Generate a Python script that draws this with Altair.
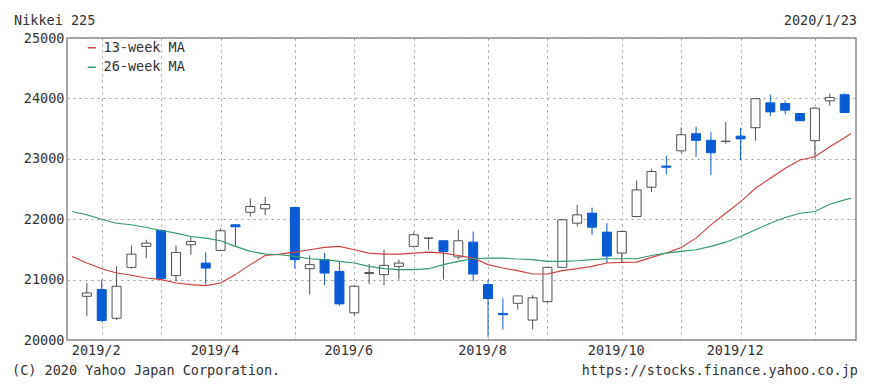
import altair as alt
import pandas as pd

# ---- weekly candles (Nikkei 225) ----
dates = ["2019-01-28", "2019-02-04", "2019-02-11", "2019-02-18", "2019-02-25",
         "2019-03-04", "2019-03-11", "2019-03-18", "2019-03-25",
         "2019-04-01", "2019-04-08", "2019-04-15", "2019-04-22",
         "2019-05-06", "2019-05-13", "2019-05-20", "2019-05-27",
         "2019-06-03", "2019-06-10", "2019-06-17", "2019-06-24",
         "2019-07-01", "2019-07-08", "2019-07-15", "2019-07-22", "2019-07-29",
         "2019-08-05", "2019-08-12", "2019-08-19", "2019-08-26",
         "2019-09-02", "2019-09-09", "2019-09-16", "2019-09-23", "2019-09-30",
         "2019-10-07", "2019-10-14", "2019-10-21", "2019-10-28",
         "2019-11-04", "2019-11-11", "2019-11-18", "2019-11-25",
         "2019-12-02", "2019-12-09", "2019-12-16", "2019-12-23", "2019-12-30",
         "2020-01-06", "2020-01-13", "2020-01-20"]
opens = [20724, 20835, 20360, 21203, 21550, 21813, 21066, 21577, 21274, 21483,
         21907, 22115, 22172, 22193, 21181, 21330, 21137, 20450, 21100, 21082,
         21219, 21550, 21686, 21643, 21375, 21620, 20917, 20440, 20608, 20330,
         20635, 21203, 21934, 22100, 21785, 21439, 22044, 22530, 22880, 23132,
         23415, 23306, 23290, 23375, 23515, 23926, 23915, 23750, 23300, 23960,
         24060]
highs = [20944, 21000, 21220, 21566, 21660, 21830, 21561, 21715, 21450, 21850,
         21920, 22346, 22370, 22200, 21401, 21439, 21302, 20900, 21257, 21495,
         21330, 21780, 21700, 21650, 21825, 21797, 20988, 20686, 20735, 20742,
         21210, 22000, 22238, 22193, 21934, 21810, 22640, 22832, 23050, 23520,
         23530, 23440, 23610, 23515, 24000, 24063, 23965, 23755, 23850, 24081,
         24085]
lows = [20394, 20300, 20330, 21181, 21356, 21000, 20972, 21412, 20917, 21470,
        21561, 22044, 22072, 21181, 20752, 20906, 20566, 20410, 20927, 20906,
        21000, 21530, 21495, 21000, 21330, 20972, 20050, 20175, 20505, 20175,
        20620, 21190, 21880, 21742, 21274, 21302, 22040, 22456, 22740, 23100,
        23035, 22730, 23250, 22975, 23300, 23706, 23734, 23625, 23000, 23877,
        23760]
closes = [20779, 20323, 20890, 21422, 21604, 21016, 21450, 21632, 21191, 21808,
          21874, 22210, 22244, 21330, 21248, 21109, 20598, 20890, 21116, 21236,
          21274, 21742, 21686, 21467, 21643, 21092, 20686, 20418, 20730, 20698,
          21203, 21990, 22072, 21868, 21390, 21797, 22485, 22790, 22860, 23398,
          23306, 23100, 23290, 23330, 23995, 23777, 23805, 23630, 23838, 24015,
          23767]

# ---- moving averages ----
ma_dates = ["2019-01-21", "2019-01-28", "2019-02-04", "2019-02-11", "2019-02-18",
            "2019-02-25", "2019-03-04", "2019-03-11", "2019-03-18", "2019-03-25",
            "2019-04-01", "2019-04-08", "2019-04-15", "2019-04-22", "2019-04-29",
            "2019-05-06", "2019-05-13", "2019-05-20", "2019-05-27", "2019-06-03",
            "2019-06-10", "2019-06-17", "2019-06-24", "2019-07-01", "2019-07-08",
            "2019-07-15", "2019-07-22", "2019-07-29", "2019-08-05", "2019-08-12",
            "2019-08-19", "2019-08-26", "2019-09-02", "2019-09-09", "2019-09-16",
            "2019-09-23", "2019-09-30", "2019-10-07", "2019-10-14", "2019-10-21",
            "2019-10-28", "2019-11-04", "2019-11-11", "2019-11-18", "2019-11-25",
            "2019-12-02", "2019-12-09", "2019-12-16", "2019-12-23", "2019-12-30",
            "2020-01-06", "2020-01-13", "2020-01-20", "2020-01-23"]
ma13 = [21384, 21274, 21181, 21109, 21071, 21026, 21000, 20944, 20917, 20900,
        20944, 21083, 21248, 21400, 21422, 21455, 21495, 21533, 21550, 21495,
        21439, 21422, 21422, 21439, 21455, 21439, 21400, 21356, 21248, 21191,
        21149, 21092, 21092, 21149, 21181, 21219, 21274, 21285, 21290, 21368,
        21439, 21533, 21686, 21907, 22099, 22292, 22512, 22677, 22842, 22980,
        23034, 23200, 23348, 23419]
ma26 = [22127, 22073, 22000, 21934, 21907, 21863, 21813, 21769, 21714, 21686,
        21643, 21550, 21467, 21422, 21412, 21384, 21346, 21330, 21302, 21274,
        21219, 21181, 21165, 21165, 21181, 21248, 21302, 21346, 21356, 21356,
        21340, 21330, 21302, 21302, 21313, 21330, 21346, 21346, 21346, 21400,
        21439, 21467, 21495, 21550, 21620, 21714, 21825, 21934, 22028, 22099,
        22127, 22247, 22320, 22347]
series_names = ["13-week MA", "26-week MA"]

# ---- axis ticks ----
month_ticks = [(2019, 2, 4), (2019, 3, 4), (2019, 4, 1), (2019, 5, 6), (2019, 6, 3),
               (2019, 7, 1), (2019, 8, 5), (2019, 9, 2), (2019, 10, 7), (2019, 11, 4),
               (2019, 12, 2), (2020, 1, 6)]
y_ticks = [20000, 21000, 22000, 23000, 24000, 25000]

title_left = "Nikkei 225"
title_right = "2020/1/23"
foot_left = "(C) 2020 Yahoo Japan Corporation."
foot_right = "https://stocks.finance.yahoo.co.jp"

BLUE = "#0a5ad4"
EDGE = "#505050"
FONT = "DejaVu Sans Mono"

rows = []
for d, o, h, l, c in zip(dates, opens, highs, lows, closes):
    up = c >= o
    rows.append({"date": d, "open": o, "high": h, "low": l, "close": c,
                 "face": "#ffffff" if up else BLUE,
                 "edge": EDGE if up else BLUE})
candles = pd.DataFrame(rows)

ma = pd.DataFrame(
    [{"date": d, "value": v, "series": series_names[0]} for d, v in zip(ma_dates, ma13)] +
    [{"date": d, "value": v, "series": series_names[1]} for d, v in zip(ma_dates, ma26)]
)

xscale = alt.Scale(type="utc", domain=["2019-01-21", "2020-01-23"])
yscale = alt.Scale(domain=[20000, 25000], nice=False, zero=False)

xaxis = alt.Axis(
    values=[alt.DateTime(year=y, month=m, date=d, utc=True) for y, m, d in month_ticks],
    labelExpr="utcmonth(datum.value) % 2 == 1 ? utcFormat(datum.value, '%Y/%-m') : ''",
    grid=True, ticks=False, domain=False, labelPadding=3, labelOffset=-6,
    labelAlign="center",
)
yaxis = alt.Axis(values=y_ticks, format="d", grid=True, ticks=False, domain=False,
                 labelPadding=3)

wick = alt.Chart(candles).mark_rule(strokeWidth=1).encode(
    x=alt.X("date:T", scale=xscale, axis=xaxis, title=None),
    y=alt.Y("low:Q", scale=yscale, axis=yaxis, title=None),
    y2="high:Q",
    stroke=alt.Stroke("edge:N", scale=None),
)

body = alt.Chart(candles).mark_bar(size=9, strokeWidth=1).encode(
    x="date:T",
    y="open:Q",
    y2="close:Q",
    fill=alt.Fill("face:N", scale=None),
    stroke=alt.Stroke("edge:N", scale=None),
)

lines = alt.Chart(ma).mark_line(strokeWidth=1.1, clip=True).encode(
    x="date:T",
    y="value:Q",
    color=alt.Color(
        "series:N",
        scale=alt.Scale(domain=series_names, range=["#cc4040", "#33996a"]),
        legend=alt.Legend(
            title=None, orient="none", legendX=18, legendY=3,
            symbolType="stroke", symbolSize=64, symbolStrokeWidth=1.5,
            labelFont=FONT, labelFontSize=13.5, labelColor="#333333",
            labelOffset=5, rowPadding=4.5, padding=0,
        ),
    ),
)

def label(text, x, y, align):
    return alt.Chart(pd.DataFrame({"t": [text]})).mark_text(
        font=FONT, fontSize=13.5, color="#333333", align=align, baseline="middle"
    ).encode(text="t:N", x=alt.value(x), y=alt.value(y))

chart = alt.layer(
    wick, body, lines,
    label(title_left, -53, -17, "left"),
    label(title_right, 790, -17, "right"),
    label(foot_left, -55, 333, "left"),
    label(foot_right, 791, 333, "right"),
).properties(
    width=789, height=302,
    padding={"left": 59, "top": 30, "right": 6, "bottom": 39},
    autosize="none",
    background="white",
).configure_view(
    stroke="#8c8c8c", strokeWidth=1.5,
).configure_axis(
    labelFont=FONT, labelFontSize=13.5, labelColor="#333333",
    gridColor="#9a9a9a", gridDash=[2, 4], gridWidth=1,
)

chart.save("out.html", embed_options={"renderer": "svg", "actions": False})
